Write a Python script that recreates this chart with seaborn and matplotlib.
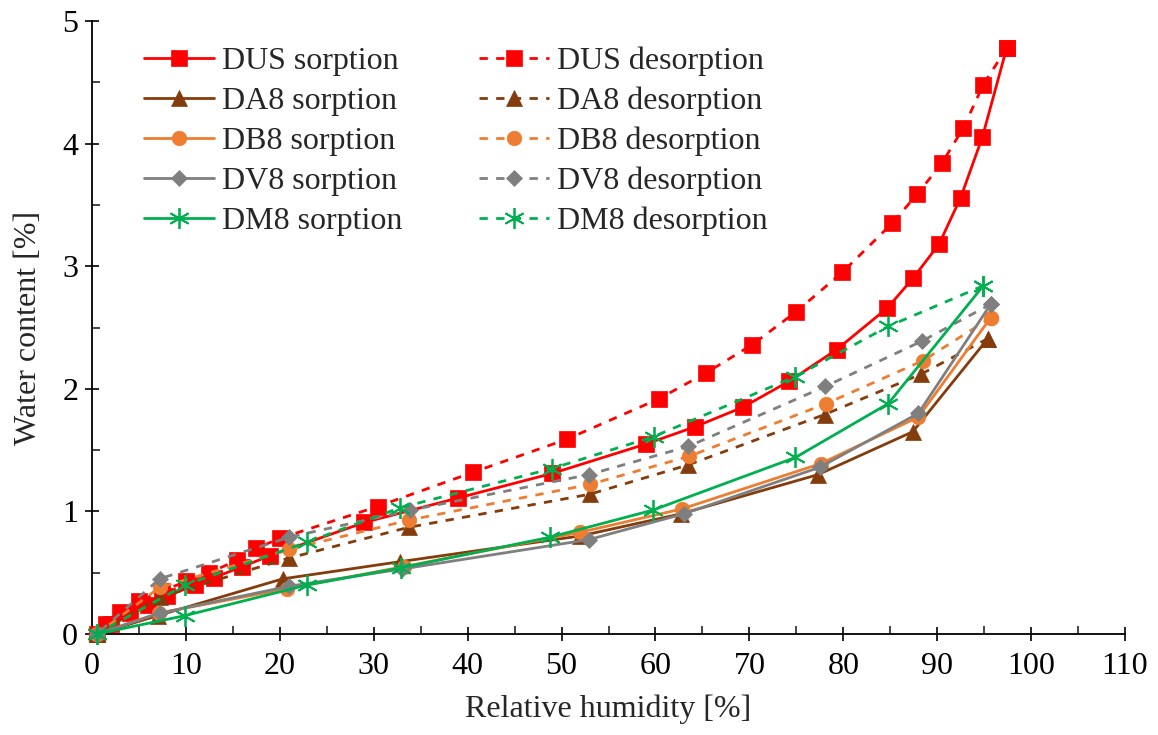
import numpy as np
import pandas as pd
import matplotlib
matplotlib.use("Agg")
import matplotlib.pyplot as plt
from matplotlib.ticker import MultipleLocator
import seaborn as sns

# DUS
dus_sorp_rh = [0.5, 2, 4, 6, 8, 11, 13, 16, 19, 29, 39, 49, 59, 64.2, 69.3, 74.2, 79.3, 84.7, 87.4, 90.2, 92.5, 94.8, 97.4]
dus_sorp_wc = [0.0, 0.08, 0.17, 0.24, 0.31, 0.40, 0.46, 0.55, 0.64, 0.91, 1.11, 1.31, 1.55, 1.69, 1.85, 2.06, 2.32, 2.66, 2.90, 3.18, 3.56, 4.05, 4.78]
dus_desorp_rh = [97.4, 94.9, 92.8, 90.5, 87.9, 85.2, 79.9, 75.0, 70.3, 65.4, 60.4, 50.6, 40.6, 30.4, 20.0, 17.5, 15.4, 12.5, 10.0, 7.5, 5.0, 3.0, 1.5]
dus_desorp_wc = [4.78, 4.48, 4.13, 3.84, 3.59, 3.35, 2.95, 2.63, 2.36, 2.13, 1.92, 1.59, 1.32, 1.04, 0.78, 0.70, 0.60, 0.50, 0.43, 0.35, 0.27, 0.18, 0.08]

# DA8
da8_sorp_rh = [0.5, 7.0, 20.3, 32.8, 52.0, 62.7, 77.3, 87.4, 95.4]
da8_sorp_wc = [0.0, 0.15, 0.45, 0.59, 0.80, 0.98, 1.30, 1.65, 2.41]
da8_desorp_rh = [95.4, 88.3, 78.0, 63.5, 53.0, 33.7, 21.0, 7.2, 0.5]
da8_desorp_wc = [2.41, 2.12, 1.79, 1.38, 1.14, 0.87, 0.62, 0.30, 0.0]

# DB8
db8_sorp_rh = [0.5, 7.1, 20.8, 33.2, 52.0, 62.8, 77.6, 88.0, 95.7]
db8_sorp_wc = [0.0, 0.17, 0.37, 0.55, 0.83, 1.02, 1.39, 1.77, 2.58]
db8_desorp_rh = [95.7, 88.5, 78.2, 63.6, 53.0, 33.8, 21.0, 7.2, 0.5]
db8_desorp_wc = [2.58, 2.23, 1.88, 1.45, 1.22, 0.93, 0.69, 0.38, 0.0]

# DV8
dv8_sorp_rh = [0.5, 7.2, 21.0, 33.0, 52.9, 63.0, 77.5, 88.0, 95.7]
dv8_sorp_wc = [0.0, 0.17, 0.39, 0.53, 0.77, 0.98, 1.36, 1.80, 2.69]
dv8_desorp_rh = [95.7, 88.4, 78.1, 63.5, 52.9, 33.9, 21.0, 7.2, 0.5]
dv8_desorp_wc = [2.69, 2.39, 2.02, 1.53, 1.30, 1.01, 0.79, 0.45, 0.0]

# DM8
dm8_sorp_rh = [0.5, 9.9, 22.9, 32.9, 48.8, 59.7, 74.9, 84.8, 94.9]
dm8_sorp_wc = [0.0, 0.15, 0.40, 0.54, 0.79, 1.01, 1.44, 1.88, 2.84]
dm8_desorp_rh = [94.9, 84.8, 74.9, 59.8, 49.0, 32.8, 22.9, 9.9, 0.5]
dm8_desorp_wc = [2.84, 2.51, 2.10, 1.61, 1.35, 1.03, 0.75, 0.40, 0.0]

series = [
    ("DUS", "#FF0000", "s", 11, dus_sorp_rh, dus_sorp_wc, dus_desorp_rh, dus_desorp_wc),
    ("DA8", "#843C0C", "^", 12, da8_sorp_rh, da8_sorp_wc, da8_desorp_rh, da8_desorp_wc),
    ("DB8", "#ED7D31", "o", 10.5, db8_sorp_rh, db8_sorp_wc, db8_desorp_rh, db8_desorp_wc),
    ("DV8", "#7F7F7F", "D", 8.5, dv8_sorp_rh, dv8_sorp_wc, dv8_desorp_rh, dv8_desorp_wc),
    ("DM8", "#00B050", (6, 2, 0), 15, dm8_sorp_rh, dm8_sorp_wc, dm8_desorp_rh, dm8_desorp_wc),
]

sns.set_style("white")
plt.rcParams["font.family"] = ["Liberation Serif", "DejaVu Serif"]

fig = plt.figure(figsize=(11.58, 7.35), dpi=100)
ax = fig.add_axes([0.0795, 0.1374, 0.892, 0.834])

sorp_handles = []
desorp_handles = []
for name, color, marker, ms, srh, swc, drh, dwc in series:
    mew = 1.3 if name == "DM8" else 0.5
    sns.lineplot(x=srh, y=swc, ax=ax, sort=False, estimator=None, color=color,
                 marker=marker, markersize=ms, markeredgecolor=color, markeredgewidth=mew,
                 linewidth=2.0, linestyle="-", clip_on=False, zorder=3)
    sorp_handles.append(ax.get_lines()[-1])
    sns.lineplot(x=drh, y=dwc, ax=ax, sort=False, estimator=None, color=color,
                 marker=marker, markersize=ms, markeredgecolor=color, markeredgewidth=mew,
                 linewidth=2.0, linestyle=(0, (3.0, 3.0)), clip_on=False, zorder=3)
    desorp_handles.append(ax.get_lines()[-1])

ax.set_xlim(0, 110)
ax.set_ylim(0, 5)
ax.xaxis.set_major_locator(MultipleLocator(10))
ax.xaxis.set_minor_locator(MultipleLocator(5))
ax.yaxis.set_major_locator(MultipleLocator(1))
ax.yaxis.set_minor_locator(MultipleLocator(0.5))
ax.tick_params(which="major", direction="inout", length=10, width=1.2, labelsize=23, colors="black")
ax.tick_params(axis="x", which="major", pad=8)
ax.tick_params(axis="y", which="major", pad=5)
ax.tick_params(which="minor", direction="in", length=6, width=1.2)
ax.tick_params(axis="both", which="both", bottom=True, left=True, top=False, right=False)

for side in ["top", "right"]:
    ax.spines[side].set_visible(False)
for side in ["left", "bottom"]:
    ax.spines[side].set_color("black")
    ax.spines[side].set_linewidth(1.3)

ax.set_xlabel("Relative humidity [%]", fontsize=23, labelpad=10)
ax.set_ylabel("Water content [%]", fontsize=23, labelpad=14)

labels = [f"{s[0]} sorption" for s in series] + [f"{s[0]} desorption" for s in series]
ax.legend(sorp_handles + desorp_handles, labels, ncol=2, loc="upper left",
          bbox_to_anchor=(0.022, 1.005), frameon=False, fontsize=23,
          handlelength=2.2, handletextpad=0.25, columnspacing=2.4, labelspacing=0.33,
          borderpad=0.4)

fig.savefig("out.png", dpi=100)
